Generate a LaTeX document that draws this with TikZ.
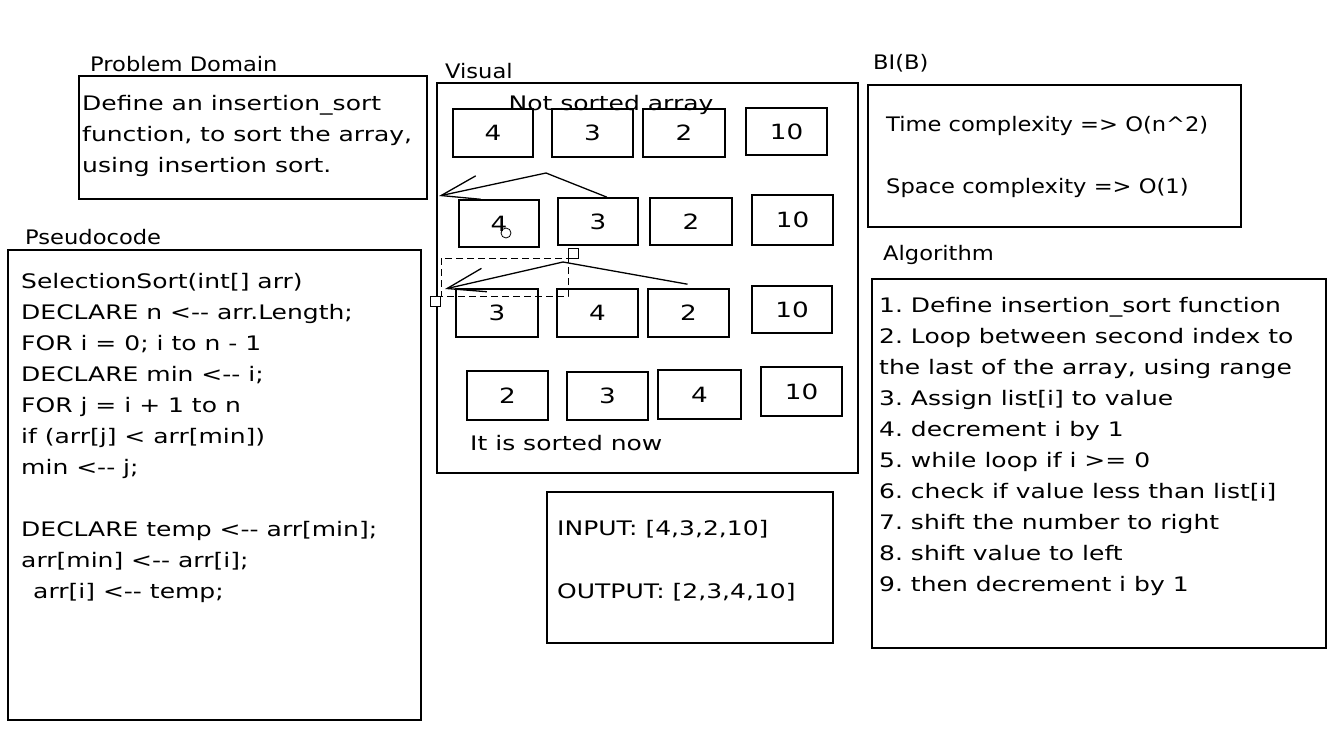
\documentclass[tikz,border=0pt]{standalone}
\usepackage{fontspec}
\newfontfamily\hand[FakeStretch=1.25]{DejaVu Sans}
\newfontfamily\handn[FakeStretch=1.13]{DejaVu Sans}
\usetikzlibrary{arrows.meta,calc}
\frenchspacing
\begin{document}
\begin{tikzpicture}[x=1pt,y=-1pt,
  box/.style={draw, line width=1.6pt, inner sep=0pt, rectangle},
  cell/.style={draw, line width=1.6pt, inner sep=0pt, rectangle, font=\hand\fontsize{21}{21}\selectfont},
  txt/.style={anchor=base west, inner sep=0pt, font=\hand\fontsize{20}{20}\selectfont},
  ntxt/.style={anchor=base west, inner sep=0pt, font=\handn\fontsize{20}{20}\selectfont},
  flow/.style={line width=1.3pt, line join=round, -{Straight Barb[length=38pt,width=24pt]}},
  sel/.style={line width=0.8pt, dash pattern=on 7pt off 4pt},
  handle/.style={draw, fill=white, line width=0.8pt, inner sep=0pt, minimum size=10pt, rectangle}
]
\useasboundingbox (0,0) rectangle (1331,755);
\fill[white] (0,0) rectangle (1331,755);

% ---------- Problem domain ----------
\node[ntxt] (pdt) at (90,71) {Problem Domain};
\node[box, minimum width=348pt, minimum height=123pt] (pd) at (253,137.5) {};
\node[txt] (pd1) at (82,110) {Define an insertion\_sort};
\node[txt] (pd2) at (82,141) {function, to sort the array,};
\node[txt] (pd3) at (82,172) {using insertion sort.};

% ---------- Pseudocode ----------
\node[ntxt] (pst) at (25,244) {Pseudocode};
\node[box, minimum width=413pt, minimum height=470pt] (ps) at (214.5,485) {};
\node[txt] (ps1) at (21,288) {SelectionSort(int[] arr)};
\node[txt] (ps2) at (21,319) {DECLARE n <-{}- arr.Length;};
\node[txt] (ps3) at (21,350) {FOR i = 0; i to n - 1};
\node[txt] (ps4) at (21,381) {DECLARE min <-{}- i;};
\node[txt] (ps5) at (21,412) {FOR j = i + 1 to n};
\node[txt] (ps6) at (21,443) {if (arr[j] < arr[min])};
\node[txt] (ps7) at (21,474) {min <-{}- j;};
\node[txt] (ps8) at (21,536) {DECLARE temp <-{}- arr[min];};
\node[txt] (ps9) at (21,567) {arr[min] <-{}- arr[i];};
\node[txt] (ps10) at (33,598) {arr[i] <-{}- temp;};

% ---------- Visual ----------
\node[ntxt] (vist) at (445,78) {Visual};
\node[box, minimum width=421pt, minimum height=390pt] (vis) at (647.5,278) {};

% row 1
\node[cell, minimum width=80pt, minimum height=48pt] (b11) at (493,133) {4};
\node[cell, minimum width=81pt, minimum height=48pt] (b12) at (592.5,133) {3};
\node[cell, minimum width=82pt, minimum height=48pt] (b13) at (684,133) {2};
\node[cell, minimum width=81pt, minimum height=47pt] (b14) at (786.5,131.5) {10};
\node[txt, anchor=base] (nsa) at (611,110) {Not sorted array};
% row 2
\node[cell, minimum width=80pt, minimum height=47pt] (b21) at (499,223.5) {4};
\node[cell, minimum width=80pt, minimum height=47pt] (b22) at (598,221.5) {3};
\node[cell, minimum width=82pt, minimum height=47pt] (b23) at (691,221.5) {2};
\node[cell, minimum width=81pt, minimum height=50pt] (b24) at (792.5,220) {10};
\node[draw, circle, line width=0.8pt, minimum size=10pt, inner sep=0pt] (cur) at (506,233) {};
% row 3
\node[cell, minimum width=82pt, minimum height=48pt] (b31) at (497,313) {3};
\node[cell, minimum width=81pt, minimum height=48pt] (b32) at (597.5,313) {4};
\node[cell, minimum width=81pt, minimum height=48pt] (b33) at (688.5,313) {2};
\node[cell, minimum width=80pt, minimum height=47pt] (b34) at (792,309.5) {10};
% row 4
\node[cell, minimum width=81pt, minimum height=49pt] (b41) at (507.5,395.5) {2};
\node[cell, minimum width=81pt, minimum height=48pt] (b42) at (607.5,396) {3};
\node[cell, minimum width=83pt, minimum height=49pt] (b43) at (699.5,394.5) {4};
\node[cell, minimum width=81pt, minimum height=49pt] (b44) at (801.5,391.5) {10};
\node[txt] (srt) at (470,450) {It is sorted now};

% arrows
\coordinate (bend1) at (546,173);
\coordinate (tip1) at (439,196);
\draw[flow] ($(b22.north)+(9,0)$) -- (bend1) -- (tip1);
\coordinate (bend2) at (563,262);
\coordinate (tip2) at (445,289);
\draw[flow] ($(b33.north)+(-1,-4)$) -- (bend2) -- (tip2);

% selection marks
\draw[sel] (441,258) rectangle (568,296);
\draw[sel] (568,258) -- (568,248);
\node[handle] (h1) at (573,253) {};
\node[handle] (h2) at (435.5,301) {};

% ---------- I/O ----------
\node[box, minimum width=286pt, minimum height=151pt] (io) at (690,567.5) {};
\node[txt] (in) at (557,535) {INPUT: [4,3,2,10]};
\node[txt] (out) at (557,598) {OUTPUT: [2,3,4,10]};

% ---------- Big O ----------
\node[ntxt] (bit) at (873,69) {BI(B)};
\node[box, minimum width=373pt, minimum height=142pt] (bi) at (1054.5,156) {};
\node[ntxt] (bi1) at (886,131) {Time complexity => O(n\textasciicircum 2)};
\node[ntxt] (bi2) at (886,193) {Space complexity => O(1)};

% ---------- Algorithm ----------
\node[ntxt] (alt) at (883,260) {Algorithm};
\node[box, minimum width=454pt, minimum height=369pt] (al) at (1099,463.5) {};
\node[txt] (al1) at (879,312) {1. Define insertion\_sort function};
\node[txt] (al2) at (879,343) {2. Loop between second index to};
\node[txt] (al3) at (879,374) {the last of the array, using range};
\node[txt] (al4) at (879,405) {3. Assign list[i] to value};
\node[txt] (al5) at (879,436) {4. decrement i by 1};
\node[txt] (al6) at (879,467) {5. while loop if i >= 0};
\node[txt] (al7) at (879,498) {6. check if value less than list[i]};
\node[txt] (al8) at (879,529) {7. shift the number to right};
\node[txt] (al9) at (879,560) {8. shift value to left};
\node[txt] (al10) at (879,591) {9. then decrement i by 1};
\end{tikzpicture}
\end{document}
